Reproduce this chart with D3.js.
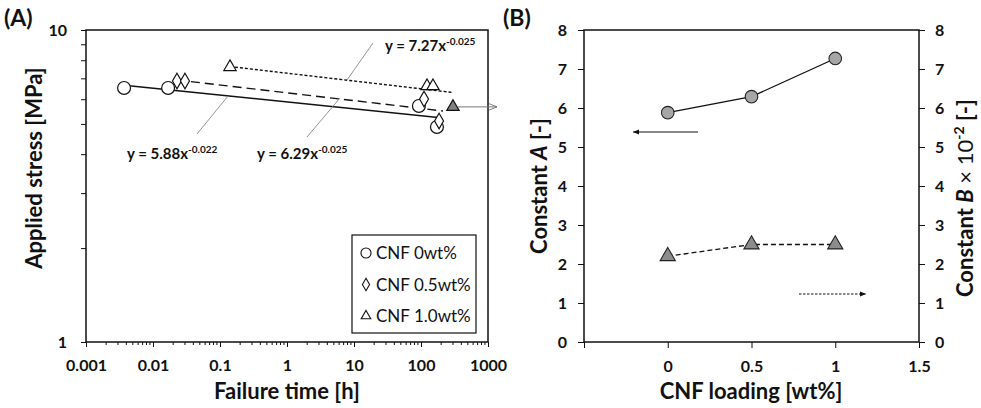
<!DOCTYPE html>
<html>
<head>
<meta charset="utf-8">
<script src="https://cdn.jsdelivr.net/npm/d3@7"></script>
<style>
  body { margin: 0; background: #fff; }
  svg text { font-family: Lato, "Open Sans", sans-serif; fill: #111; }
</style>
</head>
<body>
<div id="chart"></div>
<script>
// panel A data: failure time [h] vs applied stress [MPa]
const timeCnf0 = [0.0037, 0.0168, 93, 173];
const stressCnf0 = [6.52, 6.52, 5.71, 4.89];
const timeCnf05 = [0.0228, 0.030, 111, 186];
const stressCnf05 = [6.86, 6.86, 6.01, 5.11];
const timeCnf10 = [0.141, 123, 151];
const stressCnf10 = [7.61, 6.61, 6.61];
const runoutTime = [300];
const runoutStress = [5.67];

// power-law fits y = A x^-B
const fitNames = ["y = 5.88x", "y = 6.29x", "y = 7.27x"];
const fitExp = ["-0.022", "-0.025", "-0.025"];
const fitA = [5.88, 6.29, 7.27];
const fitB = [0.022, 0.025, 0.025];
const fitFrom = [0.0037, 0.0228, 0.141];
const fitTo = [180, 213, 290];

const legendLabels = ["CNF 0wt%", "CNF 0.5wt%", "CNF 1.0wt%"];
const xTicksA = [0.001, 0.01, 0.1, 1, 10, 100, 1000];
const yTicksA = [1, 10];

// panel B data
const loading = [0, 0.5, 1];
const constA = [5.88, 6.29, 7.27];
const constB = [2.2, 2.5, 2.5];
const xTicksB = [-0.5, 0, 0.5, 1, 1.5];
const yTicksB = [0, 1, 2, 3, 4, 5, 6, 7, 8];

const svg = d3.select("#chart").append("svg")
  .attr("width", 981).attr("height", 408);

const defs = svg.append("defs");
defs.append("marker").attr("id", "openHead")
  .attr("viewBox", "0 0 10 10").attr("refX", 10).attr("refY", 5)
  .attr("markerWidth", 12).attr("markerHeight", 8).attr("markerUnits", "userSpaceOnUse")
  .attr("orient", "auto")
  .append("path").attr("d", "M0,1 L10,5 L0,9").attr("fill", "none")
  .attr("stroke", "#777").attr("stroke-width", 1.2);
defs.append("marker").attr("id", "solidHead")
  .attr("viewBox", "0 0 10 10").attr("refX", 10).attr("refY", 5)
  .attr("markerWidth", 14).attr("markerHeight", 6).attr("markerUnits", "userSpaceOnUse")
  .attr("orient", "auto")
  .append("path").attr("d", "M0,1 L10,5 L0,9 Z").attr("fill", "#111");

// ---------- panel A ----------
const A = { left: 86, right: 488, top: 30, bottom: 342 };
const x = d3.scaleLog().domain([0.001, 1000]).range([A.left, A.right]);
const y = d3.scaleLog().domain([1, 10]).range([A.bottom, A.top]);

const gA = svg.append("g");

gA.append("g")
  .attr("transform", `translate(0,${A.bottom})`)
  .call(d3.axisBottom(x).tickValues(xTicksA).tickSize(5).tickPadding(13)
    .tickFormat(d => String(d)))
  .call(g => g.select(".domain").remove());

// minor x ticks
const minorX = [];
xTicksA.slice(0, -1).forEach(d => { for (let k = 2; k < 10; k++) minorX.push(d * k); });
gA.selectAll(".minx").data(minorX).enter().append("line")
  .attr("x1", d => x(d)).attr("x2", d => x(d))
  .attr("y1", A.bottom).attr("y2", A.bottom + 3)
  .attr("stroke", "#111").attr("stroke-width", 1);

gA.append("g")
  .attr("transform", `translate(${A.left},0)`)
  .call(d3.axisLeft(y).tickValues(d3.range(1, 11)).tickSize(5).tickPadding(14)
    .tickFormat(d => yTicksA.includes(d) ? String(d) : ""))
  .call(g => g.select(".domain").remove());

gA.selectAll(".tick text").attr("font-size", 16).attr("font-weight", "bold");
gA.selectAll(".tick line").attr("stroke", "#111");

gA.append("rect")
  .attr("x", A.left).attr("y", A.top)
  .attr("width", A.right - A.left).attr("height", A.bottom - A.top)
  .attr("fill", "none").attr("stroke", "#111").attr("stroke-width", 1.5);

// fit lines
const fitDash = [null, "9,5", "3,2"];
fitA.forEach((a, i) => {
  const pts = [fitFrom[i], fitTo[i]].map(t => [x(t), y(a * Math.pow(t, -fitB[i]))]);
  gA.append("path").attr("d", d3.line()(pts))
    .attr("fill", "none").attr("stroke", "#111").attr("stroke-width", 1.4)
    .attr("stroke-dasharray", fitDash[i]);
});

// equation labels with leader lines
const leaders = [[197, 134, 228, 96], [307, 137, 340, 98], [373, 43, 347, 80]];
leaders.forEach(l => {
  gA.append("line").attr("x1", l[0]).attr("y1", l[1]).attr("x2", l[2]).attr("y2", l[3])
    .attr("stroke", "#888").attr("stroke-width", 0.9);
});
const eqPos = [[127, 159], [257, 159], [385, 51]];
fitNames.forEach((n, i) => {
  const t = gA.append("text").attr("x", eqPos[i][0]).attr("y", eqPos[i][1])
    .attr("font-size", 15).attr("font-weight", "bold");
  t.append("tspan").text(n);
  t.append("tspan").attr("dy", -6).attr("font-size", 10).text(fitExp[i]);
});

// markers
const circleSym = d3.symbol().type(d3.symbolCircle).size(130);
const diamondSym = d3.symbol().type(d3.symbolDiamond).size(70);
const triSym = d3.symbol().type(d3.symbolTriangle).size(66);

function drawPts(xs, ys, sym, fill, stroke) {
  gA.append("g").selectAll("path").data(xs).enter().append("path")
    .attr("transform", (d, i) => `translate(${x(d)},${y(ys[i])})`)
    .attr("d", sym).attr("fill", fill).attr("stroke", stroke).attr("stroke-width", 1.2);
}
drawPts(timeCnf0, stressCnf0, circleSym, "#fff", "#111");
drawPts(timeCnf05, stressCnf05, diamondSym, "#fff", "#111");
drawPts(timeCnf10, stressCnf10, triSym, "#fff", "#111");
drawPts(runoutTime, runoutStress, triSym, "#808080", "#111");

// arrow towards panel B
gA.append("line")
  .attr("x1", x(runoutTime[0]) + 5).attr("y1", y(runoutStress[0]))
  .attr("x2", 497).attr("y2", y(runoutStress[0]))
  .attr("stroke", "#777").attr("stroke-width", 1).attr("marker-end", "url(#openHead)");

// legend
const leg = gA.append("g");
leg.append("rect").attr("x", 352).attr("y", 235).attr("width", 124).attr("height", 98)
  .attr("fill", "#fff").attr("stroke", "#111").attr("stroke-width", 1.2);
const legSyms = [d3.symbol().type(d3.symbolCircle).size(80), d3.symbol().type(d3.symbolDiamond).size(45), d3.symbol().type(d3.symbolTriangle).size(40)];
legendLabels.forEach((lab, i) => {
  const yy = 253 + i * 31.5;
  leg.append("path").attr("transform", `translate(366,${yy})`).attr("d", legSyms[i])
    .attr("fill", "#fff").attr("stroke", "#111").attr("stroke-width", 1.1);
  leg.append("text").attr("x", 376).attr("y", yy + 6).attr("font-size", 17)
    .text(lab);
});

// titles
svg.append("text").attr("x", 287).attr("y", 399).attr("text-anchor", "middle")
  .attr("font-size", 22).attr("font-weight", "bold").text("Failure time [h]");
svg.append("text").attr("transform", "translate(42,168) rotate(-90)").attr("text-anchor", "middle")
  .attr("font-size", 22).attr("font-weight", "bold").text("Applied stress [MPa]");
svg.append("text").attr("x", 4).attr("y", 26).attr("font-size", 23).attr("font-weight", "bold").text("(A)");

// ---------- panel B ----------
const B = { left: 584, right: 919, top: 30, bottom: 342 };
const xb = d3.scaleLinear().domain([-0.5, 1.5]).range([B.left, B.right]);
const yb = d3.scaleLinear().domain([0, 8]).range([B.bottom, B.top]);
const gB = svg.append("g");

gB.append("g").attr("transform", `translate(0,${B.bottom})`)
  .call(d3.axisBottom(xb).tickValues(xTicksB).tickSize(6).tickPadding(13)
    .tickFormat(d => d < 0 ? "" : String(d)))
  .call(g => g.select(".domain").remove());
gB.append("g").attr("transform", `translate(${B.left},0)`)
  .call(d3.axisLeft(yb).tickValues(yTicksB).tickSize(6).tickPadding(11).tickFormat(d3.format("d")))
  .call(g => g.select(".domain").remove());
gB.append("g").attr("transform", `translate(${B.right},0)`)
  .call(d3.axisRight(yb).tickValues(yTicksB).tickSize(6).tickPadding(10).tickFormat(d3.format("d")))
  .call(g => g.select(".domain").remove());
gB.selectAll(".tick text").attr("font-size", 16).attr("font-weight", "bold");
gB.selectAll(".tick line").attr("stroke", "#111");

gB.append("rect").attr("x", B.left).attr("y", B.top)
  .attr("width", B.right - B.left).attr("height", B.bottom - B.top)
  .attr("fill", "none").attr("stroke", "#111").attr("stroke-width", 1.5);

const lineB = d3.line().x((d, i) => xb(loading[i])).y(d => yb(d));
gB.append("path").attr("d", lineB(constA)).attr("fill", "none")
  .attr("stroke", "#111").attr("stroke-width", 1.3);
gB.append("path").attr("d", lineB(constB)).attr("fill", "none")
  .attr("stroke", "#111").attr("stroke-width", 1.3).attr("stroke-dasharray", "5,3");

gB.selectAll(".ptA").data(constA).enter().append("circle")
  .attr("cx", (d, i) => xb(loading[i])).attr("cy", d => yb(d)).attr("r", 6.3)
  .attr("fill", "#a6a6a6").attr("stroke", "#222").attr("stroke-width", 1.1);
gB.selectAll(".ptB").data(constB).enter().append("path")
  .attr("transform", (d, i) => `translate(${xb(loading[i])},${yb(d)})`)
  .attr("d", d3.symbol().type(d3.symbolTriangle).size(100))
  .attr("fill", "#8c8c8c").attr("stroke", "#222").attr("stroke-width", 1.1);

// axis-indicator arrows
gB.append("line").attr("x1", 698).attr("y1", 132).attr("x2", 633).attr("y2", 132)
  .attr("stroke", "#111").attr("stroke-width", 1).attr("marker-end", "url(#solidHead)");
gB.append("line").attr("x1", 799).attr("y1", 294).attr("x2", 866).attr("y2", 294)
  .attr("stroke", "#111").attr("stroke-width", 1).attr("stroke-dasharray", "2.5,1.5")
  .attr("marker-end", "url(#solidHead)");

svg.append("text").attr("x", 751).attr("y", 399).attr("text-anchor", "middle")
  .attr("font-size", 22).attr("font-weight", "bold").text("CNF loading [wt%]");
const ta = svg.append("text").attr("transform", "translate(547,186) rotate(-90)")
  .attr("text-anchor", "middle").attr("font-size", 22).attr("font-weight", "bold");
ta.append("tspan").text("Constant ");
ta.append("tspan").attr("font-style", "italic").text("A");
ta.append("tspan").text(" [-]");
const tb = svg.append("text").attr("transform", "translate(973,198) rotate(-90)")
  .attr("text-anchor", "middle").attr("font-size", 22).attr("font-weight", "bold");
tb.append("tspan").text("Constant ");
tb.append("tspan").attr("font-style", "italic").text("B");
tb.append("tspan").attr("font-weight", "normal").text(" \u00d7 10");
tb.append("tspan").attr("dy", -9).attr("font-size", 14).text("-2");
tb.append("tspan").attr("dy", 9).text(" [-]");
svg.append("text").attr("x", 503).attr("y", 26).attr("font-size", 23).attr("font-weight", "bold").text("(B)");
</script>
</body>
</html>
